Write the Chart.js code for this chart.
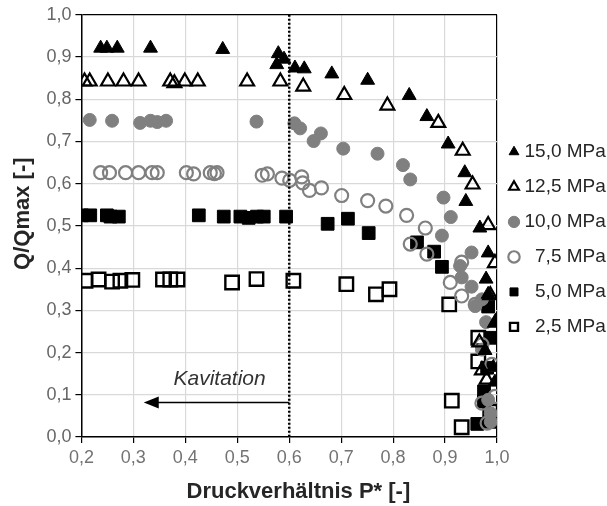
<!DOCTYPE html>
<html>
<head>
<meta charset="utf-8">
<script src="https://cdn.jsdelivr.net/npm/chart.js@4/dist/chart.umd.min.js"></script>
<style>
  html, body { margin: 0; padding: 0; background: #fff; }
  #wrap { width: 607px; height: 506px; }
</style>
</head>
<body>
<div id="wrap"><canvas id="plot-id" width="607" height="506"></canvas></div>
<script>
// series labels (legend)
const seriesLabels = ['15,0 MPa', '12,5 MPa', '10,0 MPa', '  7,5 MPa', '  5,0 MPa', '  2,5 MPa'];

// 15,0 MPa
const p150_x = [0.237, 0.249, 0.269, 0.333, 0.472, 0.579, 0.576, 0.590, 0.611, 0.629, 0.682, 0.751, 0.831, 0.865, 0.906, 0.938, 0.940, 0.967, 0.983, 0.979, 0.983, 0.996, 0.977, 0.993, 0.996];
const p150_y = [0.921, 0.921, 0.921, 0.921, 0.918, 0.908, 0.882, 0.895, 0.874, 0.872, 0.860, 0.845, 0.809, 0.759, 0.694, 0.626, 0.558, 0.495, 0.436, 0.374, 0.338, 0.271, 0.205, 0.165, 0.130];
// 12,5 MPa
const p125_x = [0.206, 0.216, 0.251, 0.281, 0.310, 0.371, 0.379, 0.399, 0.424, 0.519, 0.583, 0.627, 0.706, 0.789, 0.887, 0.934, 0.953, 0.983, 0.996, 0.987, 0.997, 0.966, 0.971, 0.980];
const p125_y = [0.842, 0.842, 0.842, 0.842, 0.842, 0.842, 0.838, 0.842, 0.842, 0.842, 0.842, 0.830, 0.810, 0.785, 0.744, 0.678, 0.598, 0.502, 0.412, 0.336, 0.271, 0.224, 0.158, 0.136];
// 10,0 MPa
const p100_x = [0.216, 0.259, 0.313, 0.333, 0.346, 0.363, 0.537, 0.610, 0.621, 0.647, 0.661, 0.704, 0.770, 0.819, 0.833, 0.897, 0.911, 0.894, 0.951, 0.929, 0.932, 0.951, 0.971, 0.958, 0.979, 0.971, 0.983, 0.988, 0.988];
const p100_y = [0.751, 0.749, 0.744, 0.749, 0.746, 0.749, 0.747, 0.743, 0.731, 0.701, 0.719, 0.683, 0.671, 0.644, 0.610, 0.567, 0.521, 0.477, 0.437, 0.405, 0.378, 0.356, 0.326, 0.310, 0.272, 0.207, 0.088, 0.056, 0.036];
// 7,5 MPa
const p75_x = [0.237, 0.254, 0.285, 0.310, 0.336, 0.346, 0.402, 0.416, 0.448, 0.456, 0.461, 0.548, 0.558, 0.586, 0.601, 0.624, 0.626, 0.639, 0.662, 0.701, 0.751, 0.786, 0.826, 0.862, 0.833, 0.865, 0.932, 0.910, 0.932, 0.958, 0.971, 0.990, 0.996, 0.971, 0.981];
const p75_y = [0.626, 0.626, 0.626, 0.626, 0.626, 0.626, 0.626, 0.623, 0.626, 0.624, 0.626, 0.620, 0.623, 0.613, 0.608, 0.616, 0.602, 0.584, 0.590, 0.572, 0.560, 0.547, 0.525, 0.495, 0.457, 0.433, 0.414, 0.366, 0.334, 0.314, 0.219, 0.172, 0.096, 0.080, 0.033];
// 5,0 MPa
const p50_x = [0.201, 0.217, 0.249, 0.256, 0.272, 0.426, 0.474, 0.506, 0.522, 0.538, 0.551, 0.594, 0.674, 0.713, 0.753, 0.846, 0.879, 0.894, 0.983, 0.987, 0.981, 0.975, 0.975, 0.962, 0.988];
const p50_y = [0.525, 0.525, 0.525, 0.522, 0.522, 0.525, 0.522, 0.522, 0.519, 0.522, 0.522, 0.522, 0.505, 0.517, 0.483, 0.461, 0.439, 0.403, 0.309, 0.235, 0.164, 0.108, 0.084, 0.031, 0.036];
// 2,5 MPa
const p25_x = [0.208, 0.233, 0.259, 0.275, 0.298, 0.357, 0.371, 0.385, 0.490, 0.537, 0.608, 0.710, 0.767, 0.793, 0.908, 0.964, 0.964, 0.913, 0.932, 0.988, 0.987];
const p25_y = [0.370, 0.373, 0.368, 0.370, 0.372, 0.373, 0.373, 0.373, 0.366, 0.374, 0.370, 0.362, 0.338, 0.350, 0.314, 0.235, 0.179, 0.086, 0.023, 0.040, 0.060];

// axis ticks
const xMin = 0.2, xMax = 1.0, yMin = 0.0, yMax = 1.0, tickStep = 0.1;

// annotation: cavitation limit
const cavLimitX = 0.6;
const arrowY = 0.082, arrowEndX = 0.32;
const cavText = 'Kavitation', cavTextX = 0.466, cavTextY = 0.136;

function pts(xs, ys) {
    let out = [];
    for (let i = 0; i < xs.length; i++) out.push({ x: xs[i], y: ys[i] });
    return out;
}
function commaFmt(v) {
    return Number(v).toFixed(1).replace('.', ',');
}

const cavitationPlugin = {
    id: 'cavitation',
    afterDatasetsDraw(chart) {
        const { ctx, scales: { x, y } } = chart;
        const lx = x.getPixelForValue(cavLimitX);
        ctx.save();
        // dotted limit line
        ctx.strokeStyle = '#000';
        ctx.lineWidth = 2.5;
        ctx.setLineDash([2, 2]);
        ctx.beginPath();
        ctx.moveTo(lx, y.getPixelForValue(yMax));
        ctx.lineTo(lx, y.getPixelForValue(yMin));
        ctx.stroke();
        ctx.setLineDash([]);
        // arrow
        const ay = y.getPixelForValue(arrowY);
        const ax = x.getPixelForValue(arrowEndX);
        ctx.lineWidth = 1.5;
        ctx.beginPath();
        ctx.moveTo(lx, ay);
        ctx.lineTo(ax + 12, ay);
        ctx.stroke();
        ctx.fillStyle = '#000';
        ctx.beginPath();
        ctx.moveTo(ax, ay);
        ctx.lineTo(ax + 15, ay - 6);
        ctx.lineTo(ax + 15, ay + 6);
        ctx.closePath();
        ctx.fill();
        // label
        ctx.font = 'italic 21px "Liberation Sans", Arial, sans-serif';
        ctx.fillStyle = '#333';
        ctx.textAlign = 'center';
        ctx.textBaseline = 'middle';
        ctx.fillText(cavText, x.getPixelForValue(cavTextX), y.getPixelForValue(cavTextY));
        ctx.restore();
    }
};

Chart.defaults.font.family = '"Liberation Sans", Arial, sans-serif';

const ctx = document.getElementById('plot-id');
const chart = new Chart(ctx, {
    type: 'scatter',
    data: {
        datasets: [
            { label: seriesLabels[0], data: pts(p150_x, p150_y), pointStyle: 'triangle', radius: 8, backgroundColor: '#000', borderColor: '#000', borderWidth: 1 },
            { label: seriesLabels[1], data: pts(p125_x, p125_y), pointStyle: 'triangle', radius: 8, backgroundColor: 'rgba(0,0,0,0)', borderColor: '#000', borderWidth: 2.2 },
            { label: seriesLabels[2], data: pts(p100_x, p100_y), pointStyle: 'circle', radius: 6.5, backgroundColor: '#808080', borderColor: '#808080', borderWidth: 1 },
            { label: seriesLabels[3], data: pts(p75_x, p75_y), pointStyle: 'circle', radius: 6.5, backgroundColor: 'rgba(0,0,0,0)', borderColor: '#808080', borderWidth: 2.2 },
            { label: seriesLabels[4], data: pts(p50_x, p50_y), pointStyle: 'rect', radius: 9, backgroundColor: '#000', borderColor: '#000', borderWidth: 1 },
            { label: seriesLabels[5], data: pts(p25_x, p25_y), pointStyle: 'rect', radius: 9.5, backgroundColor: 'rgba(0,0,0,0)', borderColor: '#000', borderWidth: 2.4 }
        ]
    },
    options: {
        responsive: false,
        animation: false,
        devicePixelRatio: 1,
        layout: { padding: { left: 10, right: 0, top: 11, bottom: 1 } },
        scales: {
            x: {
                type: 'linear',
                min: xMin, max: xMax,
                ticks: { stepSize: tickStep, callback: commaFmt, color: '#737373', font: { size: 18 }, padding: 4 },
                grid: {
                    color: (c) => (c.tick && Math.abs(c.tick.value - xMax) < 1e-6) ? '#000' : '#d9d9d9',
                    tickColor: '#000', tickLength: 6, lineWidth: 1.2
                },
                border: { color: '#000', width: 1.5 },
                title: { display: true, text: '   Druckverhältnis P* [-]', color: '#262626', font: { size: 22, weight: 'bold' }, padding: { top: 6, bottom: 0 } }
            },
            y: {
                type: 'linear',
                min: yMin, max: yMax,
                ticks: { stepSize: tickStep, callback: commaFmt, color: '#666', font: { size: 18 }, padding: 4 },
                grid: {
                    color: (c) => (c.tick && Math.abs(c.tick.value - yMax) < 1e-6) ? '#000' : '#d9d9d9',
                    tickColor: '#000', tickLength: 6, lineWidth: 1.2
                },
                border: { color: '#000', width: 1.5 },
                title: { display: true, text: '    Q/Qmax [-]', color: '#262626', font: { size: 22, weight: 'bold' }, padding: { top: 0, bottom: 6 } }
            }
        },
        plugins: {
            legend: {
                position: 'right',
                fullSize: false,
                maxWidth: 110,
                title: { display: true, text: ' ', font: { size: 10 }, padding: 7.5 },
                labels: {
                    usePointStyle: true,
                    boxWidth: 2, boxHeight: 8,
                    padding: 16,
                    color: '#262626',
                    font: { size: 19 }
                }
            },
            tooltip: { enabled: false }
        }
    },
    plugins: [cavitationPlugin]
});
</script>
</body>
</html>
